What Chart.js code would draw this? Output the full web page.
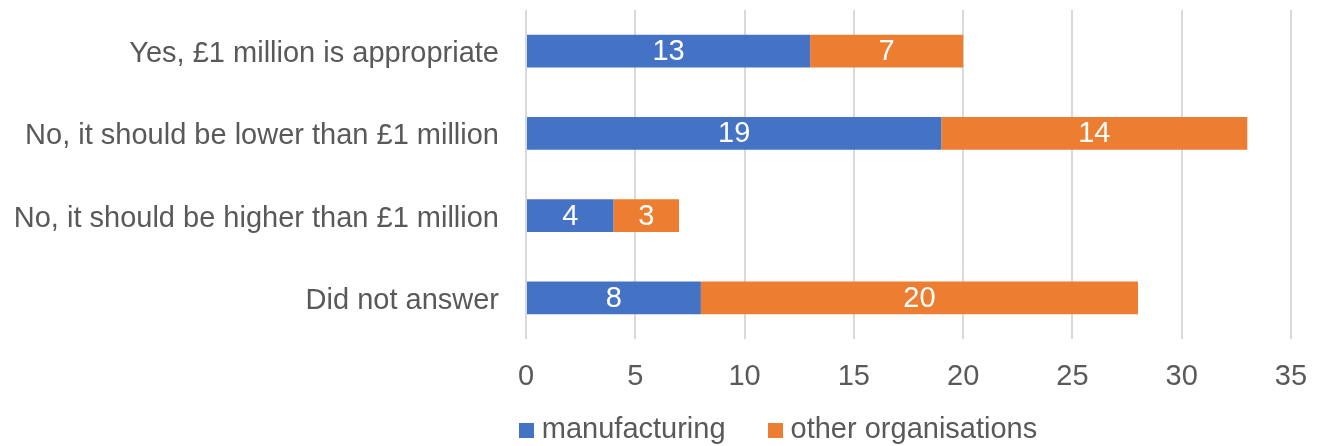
<!DOCTYPE html>
<html>
<head>
<meta charset="utf-8">
<script src="https://cdn.jsdelivr.net/npm/chart.js@4/dist/chart.umd.min.js"></script>
<style>
  html, body { margin: 0; padding: 0; background: #ffffff; }
  canvas { display: block; }
</style>
</head>
<body>
<canvas id="chart" width="1321" height="446"></canvas>
<script>
// Responses to: is £1 million the appropriate threshold?
const categories = [
  'Yes, £1 million is appropriate',
  'No, it should be lower than £1 million',
  'No, it should be higher than £1 million',
  'Did not answer'
];
const manufacturing = [13, 19, 4, 8];
const otherOrganisations = [7, 14, 3, 20];
const xTicks = [0, 5, 10, 15, 20, 25, 30, 35];

const FONT = '"Liberation Sans", Arial, sans-serif';
const TEXT = '#595959';
const SIZE = 29;

// Writes each segment's value in the middle of its bar
const barValueLabels = {
  id: 'barValueLabels',
  afterDatasetsDraw(chart) {
    const ctx = chart.ctx;
    ctx.save();
    ctx.font = SIZE + 'px ' + FONT;
    ctx.fillStyle = '#ffffff';
    ctx.textAlign = 'center';
    ctx.textBaseline = 'middle';
    chart.data.datasets.forEach((ds, i) => {
      const meta = chart.getDatasetMeta(i);
      if (meta.hidden) return;
      meta.data.forEach((bar, j) => {
        const p = bar.getCenterPoint();
        ctx.fillText(String(ds.data[j]), p.x, p.y + 1);
      });
    });
    ctx.restore();
  }
};

// Compact legend row under the axis: square swatch, short gap, series name
const swatchLegend = {
  id: 'swatchLegend',
  afterDraw(chart) {
    const ctx = chart.ctx;
    const box = 15, gap = 8, spacing = 42;
    const centerX = 778, centerY = 430;
    ctx.save();
    ctx.font = SIZE + 'px ' + FONT;
    ctx.textBaseline = 'middle';
    ctx.textAlign = 'left';
    const items = chart.data.datasets.map(ds => ({
      label: ds.label,
      color: ds.backgroundColor,
      w: ctx.measureText(ds.label).width
    }));
    const total = items.reduce((s, it) => s + box + gap + it.w, 0) + spacing * (items.length - 1);
    let x = centerX - total / 2;
    items.forEach(it => {
      ctx.fillStyle = it.color;
      ctx.fillRect(Math.round(x), Math.round(centerY - box / 2), box, box);
      ctx.fillStyle = TEXT;
      ctx.fillText(it.label, x + box + gap, centerY);
      x += box + gap + it.w + spacing;
    });
    ctx.restore();
  }
};

new Chart(document.getElementById('chart'), {
  type: 'bar',
  data: {
    labels: categories,
    datasets: [
      {
        label: 'manufacturing',
        data: manufacturing,
        backgroundColor: '#4472C4',
        categoryPercentage: 1,
        barPercentage: 0.4
      },
      {
        label: 'other organisations',
        data: otherOrganisations,
        backgroundColor: '#ED7D31',
        categoryPercentage: 1,
        barPercentage: 0.4
      }
    ]
  },
  options: {
    indexAxis: 'y',
    responsive: false,
    animation: false,
    devicePixelRatio: 1,
    layout: { padding: { top: 10, right: 30, left: 0, bottom: 47 } },
    scales: {
      x: {
        stacked: true,
        min: 0,
        max: 35,
        afterBuildTicks(scale) {
          scale.ticks = xTicks.map(v => ({ value: v }));
        },
        afterFit(scale) {
          scale.height = 60;
          scale.paddingLeft = 0;
          scale.paddingRight = 0;
        },
        grid: { color: '#d9d9d9', lineWidth: 2, drawTicks: false },
        border: { display: false },
        ticks: {
          color: TEXT,
          font: { family: FONT, size: SIZE },
          padding: 21
        }
      },
      y: {
        stacked: true,
        afterFit(scale) {
          scale.width = 526;
          scale.paddingTop = 0;
          scale.paddingBottom = 0;
        },
        grid: { display: false, drawTicks: false },
        border: { display: false },
        ticks: {
          color: TEXT,
          font: { family: FONT, size: SIZE },
          padding: 27,
          labelOffset: 3
        }
      }
    },
    plugins: {
      legend: { display: false },
      tooltip: { enabled: false }
    }
  },
  plugins: [barValueLabels, swatchLegend]
});
</script>
</body>
</html>
